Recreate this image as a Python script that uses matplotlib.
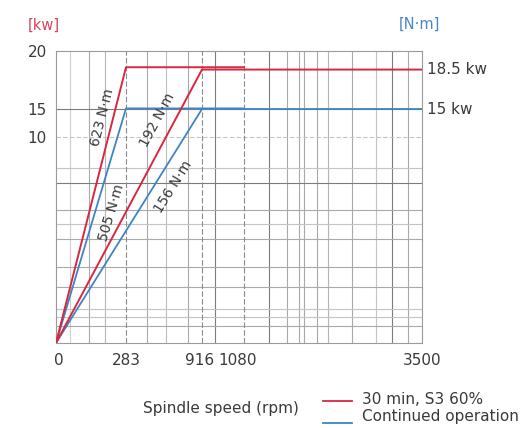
import numpy as np
import matplotlib
matplotlib.use("Agg")
import matplotlib.pyplot as plt
from matplotlib.lines import Line2D
from matplotlib.transforms import ScaledTranslation

# ---------------- data ----------------
speed_ticks = [0, 283, 916, 1080, 3500]          # rpm
power_ticks = [10, 15, 20]                       # kW

# 30 min, S3 60% (red)
speed_30min_low = [0, 283, 1080]
power_30min_low = [0, 18.6, 18.6]
speed_30min_high = [0, 916, 3500]
power_30min_high = [0, 18.4, 18.4]

# continued operation (blue)
speed_cont_low = [0, 283, 1080]
power_cont_low = [0, 15.05, 15.05]
speed_cont_high = [0, 916, 3500]
power_cont_high = [0, 15.0, 15.0]

torque_labels = ["623 N·m", "505 N·m", "192 N·m", "156 N·m"]
rated_labels = ["18.5 kw", "15 kw"]
legend_labels = ["30 min, S3 60%", "Continued operation"]

# ---------------- schematic (piecewise) scales ----------------
X_BREAK_POS = np.array([0, 70, 146, 188, 366]) / 366.0
Y_BREAK_POS = np.array([0, 206, 234, 292]) / 292.0
Y_BREAK_KW = [0, 10, 15, 20]


def fx(v):
    return np.interp(np.asarray(v, dtype=float), speed_ticks, X_BREAK_POS)


def fx_inv(v):
    return np.interp(np.asarray(v, dtype=float), X_BREAK_POS, speed_ticks)


def fy(v):
    return np.interp(np.asarray(v, dtype=float), Y_BREAK_KW, Y_BREAK_POS)


def fy_inv(v):
    return np.interp(np.asarray(v, dtype=float), Y_BREAK_POS, Y_BREAK_KW)


RED = "#d8283f"
BLUE = "#3d85c6"
TXT = "#3a3a3a"
FONT = "DejaVu Sans"
plt.rcParams["font.family"] = [FONT]

W, H = 529, 428
fig = plt.figure(figsize=(W / 100, H / 100), dpi=100)
ax = fig.add_axes([56 / W, (H - 343) / H, 366 / W, 292 / H])
ax.set_xscale("function", functions=(fx, fx_inv))
ax.set_yscale("function", functions=(fy, fy_inv))
ax.set_xlim(0, 3500)
ax.set_ylim(0, 20)

# ---------------- grid (schematic positions, axes fraction) ----------------
vgrid = [(70, "#cfcfcf"), (89, "#a9a9a9"), (105, "#b5b5b5"), (147, "#a9a9a9"),
         (166, "#bdbdbd"), (188, "#a9a9a9"), (215, "#7c7c7c"), (269, "#7c7c7c"),
         (287, "#a9a9a9"), (299, "#a9a9a9"), (304, "#a9a9a9"), (317, "#a9a9a9"),
         (328, "#b5b5b5"), (352, "#a9a9a9"), (376, "#c4c4c4"), (392, "#7c7c7c"),
         (408, "#a9a9a9")]
for px, c in vgrid:
    ax.vlines((px - 56) / 366, 0, 1, transform=ax.transAxes, colors=c, lw=0.8, zorder=1)
hgrid = [(168, "#c4c4c4"), (183, "#7c7c7c"), (210, "#a9a9a9"), (224, "#c4c4c4"),
         (239, "#a9a9a9"), (267, "#a9a9a9"), (287, "#a9a9a9"), (309, "#c4c4c4"),
         (317, "#c4c4c4"), (326, "#a9a9a9")]
for py, c in hgrid:
    ax.hlines((343 - py) / 292, 0, 1, transform=ax.transAxes, colors=c, lw=0.8, zorder=1)

# reference lines at tick values
ax.axhline(15, color="#7c7c7c", lw=0.8, zorder=1)
ax.axhline(10, color="#c4c4c4", lw=0.8, ls=(0, (4, 2)), zorder=1)
for s in speed_ticks[1:4]:
    ax.axvline(s, color="#8c8c8c", lw=0.8, ls=(0, (5, 2)), zorder=1)

# ---------------- curves ----------------
ax.plot(speed_cont_low, power_cont_low, color=BLUE, lw=1.3, zorder=3)
ax.plot(speed_cont_high, power_cont_high, color=BLUE, lw=1.3, zorder=3)
ax.plot(speed_30min_low, power_30min_low, color=RED, lw=1.4, zorder=4)
ax.plot(speed_30min_high, power_30min_high, color=RED, lw=1.4, zorder=4)

# ---------------- ticks ----------------
ax.set_xticks(speed_ticks)
ax.set_xticklabels([str(s) for s in speed_ticks])
ax.set_yticks(power_ticks)
ax.set_yticklabels([str(p) for p in power_ticks])
ax.tick_params(axis="both", length=0, labelsize=11, labelcolor=TXT)
ax.tick_params(axis="x", pad=7.5)
ax.tick_params(axis="y", pad=6.5)
for sp in ax.spines.values():
    sp.set_color("#9a9a9a")
    sp.set_linewidth(0.8)
# nudge the crowded labels like the original
xlabels = ax.get_xticklabels()
xlabels[0].set_transform(xlabels[0].get_transform() + ScaledTranslation(3 / 100, 0, fig.dpi_scale_trans))
xlabels[2].set_transform(xlabels[2].get_transform() + ScaledTranslation(-2 / 100, 0, fig.dpi_scale_trans))
xlabels[3].set_transform(xlabels[3].get_transform() + ScaledTranslation(-6 / 100, 0, fig.dpi_scale_trans))

# ---------------- torque labels along the rising lines ----------------
label_pos = [(186, 13.57), (226, 6.31), (541, 13.04), (674, 7.57)]
label_ends = [(speed_30min_low[1], power_30min_low[1]),
              (speed_cont_low[1], power_cont_low[1]),
              (speed_30min_high[1], power_30min_high[1]),
              (speed_cont_high[1], power_cont_high[1])]
p0 = ax.transData.transform((0, 0))
for lab, pos, end in zip(torque_labels, label_pos, label_ends):
    p1 = ax.transData.transform(end)
    ang = np.degrees(np.arctan2(p1[1] - p0[1], p1[0] - p0[0]))
    ax.text(pos[0], pos[1], lab, rotation=ang, rotation_mode="anchor",
            ha="center", va="center", fontsize=10, color=TXT, zorder=5)

# ---------------- rated power labels at the right ----------------
for lab, val in zip(rated_labels, [power_30min_high[-1], power_cont_high[-1]]):
    ax.annotate(lab, xy=(1, val), xycoords=("axes fraction", "data"),
                xytext=(3.5, 0), textcoords="offset points",
                ha="left", va="center", fontsize=11, color=TXT)

# ---------------- unit labels ----------------
fig.text(44 / W, 1 - 25 / H, "[kw]", color="#d9435e", fontsize=10.5,
         ha="center", va="center")
fig.text(419 / W, 1 - 24 / H, "[N·m]", color="#4a86c5", fontsize=10.5,
         ha="center", va="center")

# ---------------- x label and legend ----------------
fig.text(221 / W, 1 - 408 / H, "Spindle speed (rpm)", color=TXT, fontsize=11,
         ha="center", va="center")
for (lab, col, ly, ty) in [(legend_labels[0], RED, 401, 400),
                           (legend_labels[1], BLUE, 423, 417)]:
    fig.add_artist(Line2D([323 / W, 352 / W], [1 - ly / H] * 2,
                          transform=fig.transFigure, color=col, lw=1.3))
    fig.text(362 / W, 1 - ty / H, lab, color=TXT, fontsize=11,
             ha="left", va="center")

fig.savefig("out.png", dpi=100)
